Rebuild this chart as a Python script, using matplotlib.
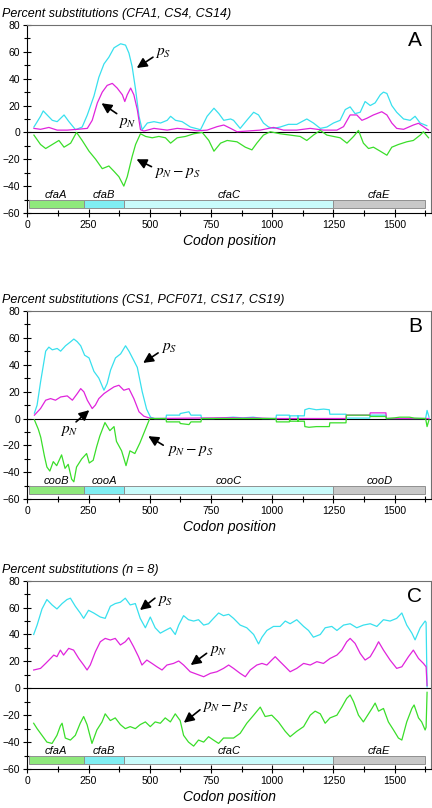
import matplotlib
matplotlib.use("Agg")
import matplotlib.pyplot as plt
from matplotlib.ticker import MultipleLocator

plt.rcParams['font.family'] = ['Liberation Sans', 'DejaVu Sans']
plt.rcParams['mathtext.fontset'] = 'stix'

# gene bars (codon start / end) shared by all panels
gene_start = [5, 231, 396, 1249]
gene_end = [231, 396, 1249, 1625]
gene_colors = ['#8fe87c', '#80eef2', '#c9fbfb', '#c8c8c8']
genes_a = ['cfaA', 'cfaB', 'cfaC', 'cfaE']
genes_b = ['cooB', 'cooA', 'cooC', 'cooD']

# ---- panel A: CFA1, CS4, CS14 ----
a_ps_x = [27, 54, 65, 102, 122, 150, 170, 197, 224, 245, 272, 292, 313, 333, 354, 381, 401, 415, 428, 442,
          456, 469, 490, 517, 544, 571, 585, 605, 632, 666, 687, 707, 734, 762, 782, 802, 830, 842, 869, 896,
          924, 944, 964, 985, 1005, 1032, 1066, 1100, 1141, 1168, 1196, 1223, 1250, 1277, 1298, 1318, 1338,
          1359, 1379, 1400, 1420, 1441, 1454, 1468, 1488, 1508, 1536, 1563, 1583, 1604, 1631]
a_ps_y = [4, 12, 16, 9, 8, 13, 8, 2, 4, 13, 27, 41, 51, 56, 63, 66, 65, 59, 49, 32,
          12, 2, 7, 8, 7, 9, 12, 9, 8, 4, 3, 2, 12, 18, 14, 9, 10, 9, 3, 9,
          15, 13, 7, 4, 3, 4, 6, 6, 10, 7, 3, 4, 7, 9, 17, 19, 14,
          15, 23, 20, 22, 28, 30, 29, 20, 15, 10, 9, 12, 7, 5]
a_pn_x = [27, 54, 88, 122, 163, 204, 245, 265, 286, 306, 326, 347, 367, 388, 398, 408, 422, 435, 449, 462,
          476, 517, 571, 612, 653, 694, 734, 775, 802, 830, 856, 896, 951, 1005, 1046, 1100, 1155, 1209, 1264,
          1291, 1318, 1345, 1366, 1386, 1413, 1447, 1468, 1488, 1508, 1536, 1576, 1597, 1617, 1638]
a_pn_y = [3, 2.3, 3.7, 1.7, 1.7, 2.3, 3, 9, 22, 30, 35, 36.5, 33, 28, 23, 28, 33, 28, 17, 2,
          1, 3, 1.7, 3, 2.3, 1.2, 1.7, 4.3, 5.5, 3, 0.5, 1, 1.7, 3.7, 1.7, 1.7, 3, 1.7, 1.7,
          4.3, 13, 13, 9, 10.5, 13, 15.4, 13, 7, 3, 2.3, 5.5, 6.8, 4.3, 1.7]
a_d_x = [27, 54, 75, 102, 129, 150, 177, 201, 224, 252, 279, 306, 333, 354, 374, 394, 408, 428, 442, 462,
         483, 510, 537, 564, 585, 612, 646, 680, 714, 741, 762, 789, 816, 856, 890, 917, 937, 964, 992,
         1032, 1073, 1114, 1141, 1168, 1196, 1223, 1250, 1277, 1305, 1332, 1352, 1372, 1393, 1413, 1441,
         1468, 1488, 1515, 1549, 1576, 1604, 1617, 1638]
a_d_y = [-2, -9, -12, -9, -6, -11, -8, 0, -6, -14, -20, -27, -25, -29, -33, -40, -33, -18, -9, -1,
         -3, -4, -3, -4, -8, -4, -3, -1, 0, -6, -14, -8, -6, -7, -11, -13, -8, -2, 0.5,
         -1, -2, -3, -6, -2, 1.5, -2, -3, -4, -8, -3, 1.5, -8, -12, -11, -14,
         -17, -11, -9, -7, -6, -2, 0.5, -4]

# ---- panel B: CS1, PCF071, CS17, CS19 ----
b_ps_x = [29, 40, 54, 75, 88, 102, 122, 136, 156, 177, 190, 204, 218, 234, 252, 272, 292, 313, 326, 340,
          360, 381, 401, 415, 435, 449, 469, 487, 503, 520, 566, 568, 622, 624, 660, 668, 709, 711, 760,
          840, 880, 922, 960, 1015, 1017, 1070, 1071, 1072, 1104, 1105, 1106, 1131, 1133, 1150, 1180, 1210,
          1233, 1235, 1301, 1303, 1398, 1400, 1464, 1466, 1520, 1600, 1626, 1632, 1640]
b_ps_y = [4, 10, 27, 50, 53, 51, 52, 50, 54, 57, 59, 57, 54, 47, 45, 35, 30, 21, 26, 36,
          45, 48, 54, 50, 43, 38, 20, 7, 1, 0, 0, 2.5, 2.5, 3.7, 5, 2.5, 2.5, 0, 0,
          1, 0.5, 1, 0, 0, 2.5, 2.5, 0, 2, 2, 0, 2, 2, 6.5, 7.5, 6.5, 7,
          6.5, 3.2, 3.2, 0.3, 0.3, 2.5, 2.5, 0, 0, 0, 0, 6, 1]
b_pn_x = [29, 54, 75, 95, 115, 136, 163, 184, 204, 218, 231, 245, 265, 278, 292, 313, 333, 354, 374, 394,
          415, 435, 456, 476, 496, 520, 840, 880, 920, 1000, 1300, 1303, 1398, 1400, 1464, 1466, 1600, 1640]
b_pn_y = [2.5, 7.4, 13.6, 14.8, 13.6, 16, 16.8, 13.6, 18.5, 22.2, 19.8, 13.6, 7.4, 10, 14.8, 18.5, 21, 23.5, 24.7, 21,
          22.2, 14.8, 5, 1.7, 0.5, 0, 0.6, 0.3, 0.5, 0, 0, 2.5, 2.5, 4.2, 4.2, 0, 0, 0]
b_d_x = [29, 45, 55, 70, 80, 92, 106, 120, 140, 154, 167, 181, 190, 201, 222, 242, 253, 269, 283, 296,
         317, 337, 354, 364, 385, 395, 403, 419, 439, 460, 480, 500, 520, 566, 568, 622, 624, 660, 668, 709,
         711, 900, 1015, 1017, 1070, 1071, 1072, 1104, 1105, 1106, 1131, 1133, 1150, 1180, 1210, 1233, 1235,
         1301, 1303, 1398, 1400, 1464, 1466, 1500, 1520, 1560, 1580, 1626, 1632, 1640]
b_d_y = [-1, -8, -14, -28, -36, -39, -32, -35, -27, -37, -34, -45, -47, -36, -30, -26, -33, -31, -21, -13,
         -3, -9, -6, -17, -24, -30, -35, -24, -26, -18, -9, 0, 0, 0, -2.5, -2.5, -3.7, -4.5, -2.5, -2.5,
         0, 0, 0, -2.5, -2.5, 0, -2, -2, 0, -2, -2, -6, -6.5, -6, -6, -6, -3.2,
         -3.2, 2.5, 2.5, 1.5, 1.5, 0, 0.5, 1, 1, 0.3, 0, -6, -1]

# ---- panel C: n = 8 ----
c_ps_x = [26, 40, 60, 80, 101, 121, 142, 162, 176, 196, 216, 230, 250, 271, 298, 318, 339, 359, 380, 400,
          420, 441, 461, 482, 502, 522, 543, 563, 584, 604, 618, 638, 658, 679, 699, 720, 740, 760, 781, 801,
          822, 842, 869, 896, 924, 944, 958, 978, 1005, 1032, 1053, 1073, 1100, 1128, 1148, 1168, 1196, 1216,
          1243, 1264, 1291, 1318, 1345, 1372, 1400, 1427, 1454, 1481, 1508, 1529, 1549, 1570, 1583, 1604,
          1624, 1628, 1632]
c_ps_y = [40, 47, 59, 66, 62, 59, 63, 66, 67, 61, 56, 52, 58, 56, 53, 52, 61, 63, 64, 67,
          62, 63, 52, 45, 53, 45, 41, 43, 45, 40, 47, 54, 51, 50, 51, 47, 48, 52, 56, 54,
          55, 52, 47, 45, 40, 33, 38, 43, 46, 46, 50, 48, 51, 46, 43, 38, 40, 45,
          46, 43, 47, 48, 45, 47, 48, 46, 51, 50, 52, 56, 47, 41, 36, 45,
          50, 49, 1]
c_pn_x = [26, 54, 75, 95, 108, 121, 135, 148, 169, 189, 210, 230, 244, 257, 278, 298, 318, 339, 359, 380,
          400, 414, 434, 454, 468, 488, 509, 529, 550, 570, 597, 618, 638, 665, 693, 720, 747, 774, 801, 822,
          842, 869, 890, 910, 937, 958, 978, 998, 1012, 1032, 1053, 1073, 1100, 1128, 1155, 1182, 1209, 1236,
          1264, 1284, 1304, 1318, 1338, 1359, 1379, 1400, 1420, 1434, 1454, 1481, 1508, 1529, 1556, 1576,
          1597, 1617, 1628, 1632]
c_pn_y = [13.6, 14.8, 18.5, 22.2, 24.7, 23.5, 28.4, 24.7, 29.7, 28.4, 22.2, 17.3, 13.6, 17.3, 27.2, 34.6, 37.1, 35.9, 37.1, 32.2,
          34.6, 37.6, 30.9, 23.5, 17.3, 21, 18.5, 16, 13.6, 17.3, 18.5, 20.3, 17.3, 12.3, 10.4, 8.6, 11.1, 12.3, 14.8, 17.3,
          14.8, 11.1, 8.6, 13.6, 17.3, 18.5, 17.3, 21, 23.5, 19.8, 16, 12.3, 14.8, 18.5, 17.3, 19.8, 18.5, 22.2,
          24.7, 28.4, 34.6, 37.1, 33.4, 25.9, 21, 23.5, 29.7, 34.6, 28.4, 21, 14.8, 16, 23.5, 28.4,
          22.2, 18.5, 16, 2]
c_d_x = [26, 40, 60, 80, 101, 121, 135, 142, 155, 176, 196, 216, 230, 244, 264, 284, 305, 318, 339, 359,
         380, 400, 420, 441, 461, 482, 502, 522, 543, 563, 584, 604, 624, 638, 658, 679, 699, 720, 740, 760,
         781, 801, 822, 842, 869, 896, 924, 951, 971, 998, 1025, 1053, 1073, 1100, 1128, 1155, 1175, 1196,
         1216, 1236, 1264, 1284, 1304, 1318, 1332, 1352, 1372, 1386, 1407, 1420, 1434, 1454, 1474, 1495,
         1515, 1529, 1549, 1570, 1579, 1597, 1610, 1624, 1628, 1632]
c_d_y = [-26, -30, -35, -40, -41, -35, -28, -26, -37, -38.5, -35, -26, -21, -27, -41, -31, -25, -19, -24, -22,
         -27, -30, -28.5, -30, -27, -25, -28.5, -25, -26, -22, -25, -19, -24, -35, -40, -43, -38.5, -40, -36, -38.5,
         -41, -37, -37, -37, -33.5, -26, -20, -14, -21, -20, -25, -32, -36, -32, -28.5, -20, -17, -19,
         -26, -22, -20, -14, -7.5, -5, -10, -20, -25, -21, -15, -11, -17, -15, -25, -31,
         -37, -38.5, -25, -15, -12.4, -22, -25, -31, -29, -3]

CYAN = '#38e0ee'
MAGENTA = '#e024dc'
GREEN = '#3ade2a'

panels = [
    dict(title='Percent substitutions (CFA1, CS4, CS14)', letter='A', genes=genes_a,
         ps=(a_ps_x, a_ps_y), pn=(a_pn_x, a_pn_y), d=(a_d_x, a_d_y),
         pos=[0.0632, 0.7364, 0.9356, 0.2327],
         ann_ps=((447, 48), (513, 56), (520, 59)),
         ann_pn=((303, 21.7), (365, 14), (372, 7)),
         ann_d=((446, -20), (507, -25.5), (518, -30))),
    dict(title='Percent substitutions (CS1, PCF071, CS17, CS19)', letter='B', genes=genes_b,
         ps=(b_ps_x, b_ps_y), pn=(b_pn_x, b_pn_y), d=(b_d_x, b_d_y),
         pos=[0.0632, 0.3820, 0.9356, 0.2334],
         ann_ps=((473, 41.3), (534, 48.7), (546, 52)),
         ann_pn=((253, 6.2), (199, -2.5), (135, -9)),
         ann_d=((494, -13.1), (555, -19.8), (570, -24))),
    dict(title='Percent substitutions (n = 8)', letter='C', genes=genes_a,
         ps=(c_ps_x, c_ps_y), pn=(c_pn_x, c_pn_y), d=(c_d_x, c_d_y),
         pos=[0.0632, 0.0483, 0.9356, 0.2330],
         ann_ps=((460, 58.2), (521, 67), (528, 65)),
         ann_pn=((667, 17.3), (732, 26), (740, 28)),
         ann_d=((639, -25.6), (705, -16), (712, -14))),
]

fig = plt.figure(figsize=(4.32, 8.08), dpi=100)

for p in panels:
    ax = fig.add_axes(p['pos'])
    ax.set_xlim(0, 1650)
    ax.set_ylim(-60, 80)
    ax.axhline(0, color='black', lw=0.8, zorder=1.5)
    ax.plot(*p['ps'], color=CYAN, lw=0.9, zorder=2)
    ax.plot(*p['pn'], color=MAGENTA, lw=0.9, zorder=2.1)
    ax.plot(*p['d'], color=GREEN, lw=0.9, zorder=2.2)

    # gene map
    widths = [e - s for s, e in zip(gene_start, gene_end)]
    ax.barh(-53, widths, left=gene_start, height=6, color=gene_colors,
            edgecolor='#909090', linewidth=0.7, zorder=3)
    for s, e, name in zip(gene_start, gene_end, p['genes']):
        ax.text((s + e) / 2, -46.5, name, ha='center', va='center',
                fontsize=8, style='italic')

    # arrows and labels
    for key, lab in (('ann_ps', r'$p_S$'), ('ann_pn', r'$p_N$'), ('ann_d', r'$p_N - p_S$')):
        head, tail, txt = p[key]
        ax.annotate('', xy=head, xytext=tail,
                    arrowprops=dict(arrowstyle='-|>,head_width=0.3,head_length=0.6',
                                    color='black', lw=1.2, shrinkA=0, shrinkB=0), zorder=5)
        ax.text(txt[0], txt[1], lab, fontsize=11, ha='left', va='center', zorder=5)

    ax.text(1582, 68.5, p['letter'], fontsize=15, ha='center', va='center')

    ax.xaxis.set_major_locator(MultipleLocator(250))
    ax.xaxis.set_minor_locator(MultipleLocator(125))
    ax.yaxis.set_major_locator(MultipleLocator(20))
    ax.yaxis.set_minor_locator(MultipleLocator(10))
    ax.tick_params(which='major', direction='inout', length=6, width=0.8, labelsize=7.5, pad=2)
    ax.tick_params(which='minor', direction='inout', length=4, width=0.8)
    for side in ('top', 'right'):
        ax.spines[side].set_color('#707070')
    ax.set_xlabel('Codon position', fontsize=10, style='italic', labelpad=3)

    bb = ax.get_position()
    fig.text(0.005, bb.y1 + 0.006, p['title'], fontsize=9, style='italic', ha='left', va='bottom')

fig.savefig('out.png', dpi=100)
